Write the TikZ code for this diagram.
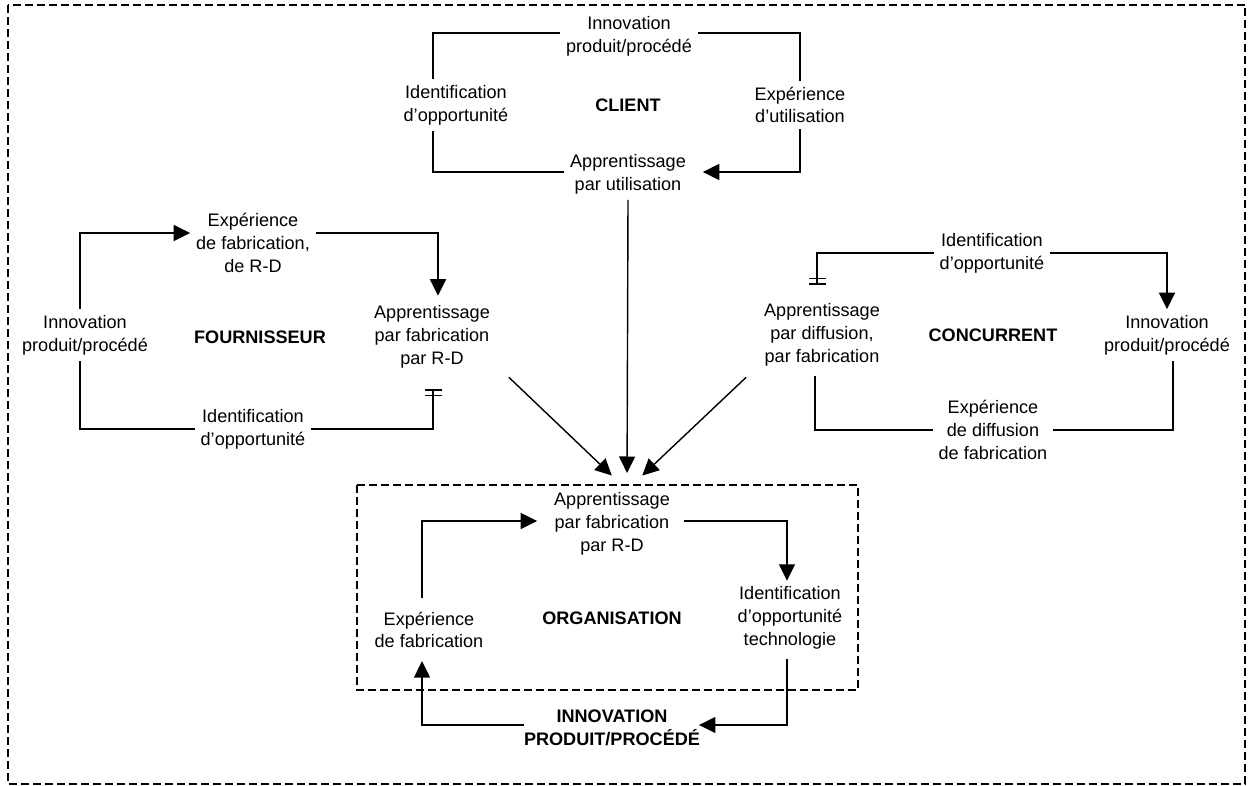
\documentclass[tikz,border=0pt]{standalone}
\usepackage{fontspec}
\setmainfont{Liberation Sans}
\usepackage{tikz}
\usetikzlibrary{arrows.meta}
\usetikzlibrary{calc}

\tikzset{
	flow/.style={-{Triangle[length=0.33cm, width=0.32cm]}},
	blocked/.style={-{Bar[width=0.34cm, sep=0.08cm]Bar[width=0.34cm]}},
	frame/.style={dash pattern=on 0.16cm off 0.08cm, line width=0.9pt},
	title/.style={font=\fontsize{10.3}{13}\selectfont\bfseries}
}

\begin{document}
\begin{tikzpicture}[x=0.02cm, y=-0.02cm, line width=0.8pt,
	every node/.style={align=center, inner sep=3pt, font=\fontsize{10.3}{13}\selectfont}]
			\useasboundingbox (0,0) rectangle (1251,786);
			\draw[frame] (8,5) rectangle (1245,784);
			\draw[frame] (357,485) rectangle (858,690);
			
			% client
			\node (cInno) at (629,36) {Innovation\\produit/procédé};
			\node (cIdent) at (456,105) {Identification\\d'opportunité};
			\node[title] (cName) at (628,105) {CLIENT};
			\node (cExp) at (800,105) {Expérience\\d'utilisation};
			\node (cApp) at (628,174) {Apprentissage\\par utilisation};
			\draw ($(cInno.west)+(0,-3)$) -| ($(cIdent.north)+(-23,0)$);
			\draw ($(cIdent.south)+(-23,0)$) |- ($(cApp.west)+(0,-2)$);
			\draw ($(cInno.east)+(0,-3)$) -| (cExp.north);
			\draw[flow] (cExp.south) |- ($(cApp.east)+(11,-2)$);
			
			% fournisseur
			\node (fInno) at (85,335) {Innovation\\produit/procédé};
			\node (fExp) at (253,243) {Expérience\\de fabrication,\\de R-D};
			\node[title] (fName) at (260,337) {FOURNISSEUR};
			\node (fApp) at (432,337) {Apprentissage\\par fabrication\\par R-D};
			\node (fIdent) at (253,429) {Identification\\d'opportunité};
			\draw[flow] ($(fInno.north)+(-5,0)$) |- ($(fExp.west)+(0,-10)$);
			\draw[flow] ($(fExp.east)+(0,-10)$) -| ($(fApp.north)+(6,-4)$);
			\draw ($(fInno.south)+(-5,0)$) |- (fIdent.west);
			\draw[blocked] (fIdent.east) -| ($(fApp.south)+(1,15)$);
			
			% concurrent
			\node (kIdent) at (992,253) {Identification\\d'opportunité};
			\node (kApp) at (822,335) {Apprentissage\\par diffusion,\\par fabrication};
			\node[title] (kName) at (993,335) {CONCURRENT};
			\node (kInno) at (1167,335) {Innovation\\produit/procédé};
			\node (kExp) at (993,430) {Expérience\\de diffusion\\de fabrication};
			\draw[flow] (kIdent.east) -| (kInno.north);
			\draw[blocked] (kIdent.west) -| ($(kApp.north)+(-5,-13)$);
			\draw ($(kApp.south)+(-7,4)$) |- (kExp.west);
			\draw (kExp.east) -| ($(kInno.south)+(6,0)$);
			
			% organisation
			\node (oApp) at (612,524) {Apprentissage\\par fabrication\\par R-D};
			\node (oIdent) at (790,618) {Identification\\d'opportunité\\technologie};
			\node[title] (oName) at (612,618) {ORGANISATION};
			\node (oExp) at (429,630) {Expérience\\de fabrication};
			\node[title] (oInno) at (612,728) {INNOVATION\\PRODUIT/PROCÉDÉ};
			\draw[flow] ($(oExp.north)+(-7,-8)$) |- ($(oApp.west)+(-11,-3)$);
			\draw[flow] ($(oApp.east)+(8,-3)$) -| ($(oIdent.north)+(-3,0)$);
			\draw[flow] ($(oIdent.south)+(-3,4)$) |- ($(oInno.east)+(-7,-3)$);
			\draw[flow] ($(oInno.west)+(6,-3)$) -| ($(oExp.south)+(-7,7)$);
			
			% vers l'organisation
			\coordinate (hub) at (627,490);
			\foreach \src/\dx/\dy/\cut in {fApp.south east/13/3/0.42cm, cApp.south/0/0/0.34cm, kApp.south west/-12/5/0.42cm}
			{
				\draw[flow, shorten >=\cut] ($(\src)+(\dx,\dy)$) -- (hub);
			}
		\end{tikzpicture}
\end{document}
